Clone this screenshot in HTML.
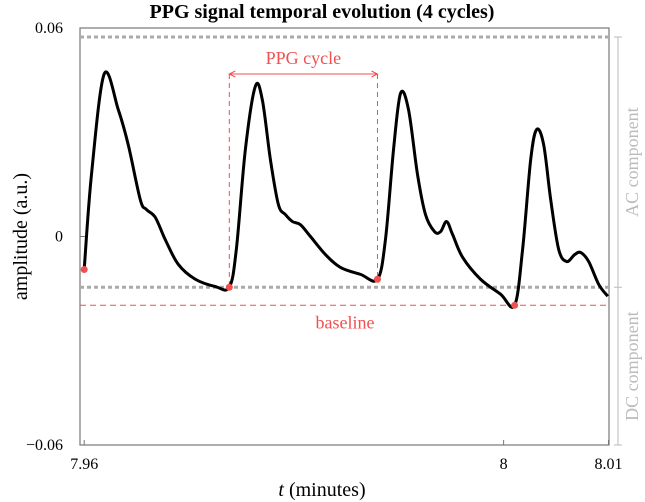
<!DOCTYPE html>
<html><head><meta charset="utf-8"><style>
body{margin:0;background:#fff}
svg{display:block;font-family:"Liberation Serif",serif}
</style></head><body>
<svg id="c" width="645" height="502">
<text x="322" y="18" text-anchor="middle" font-size="20" font-weight="bold">PPG signal temporal evolution (4 cycles)</text>
<g id="axes"></g>
<g id="marks"></g>
</svg>
<script>
const times=[7.96,7.9607,7.96191,7.96325,7.9642,7.96535,7.96592,7.96678,7.96773,7.96897,7.9706,7.97251,7.97384,7.97451,7.97537,7.97632,7.97699,7.97776,7.97852,7.97919,7.97986,7.98062,7.98158,7.98301,7.98444,7.98635,7.98797,7.98873,7.9895,7.99017,7.99093,7.99179,7.99255,7.99341,7.99399,7.99456,7.99513,7.99609,7.9978,7.99971,8.00105,8.00181,8.00258,8.00315,8.00382,8.00449,8.00525,8.00601,8.00678,8.00735,8.00811,8.00907,8.00993];
const amps=[-0.0095,0.018,0.0468,0.0365,0.0264,0.0106,0.0078,0.0055,-0.0009,-0.008,-0.0123,-0.0144,-0.0146,-0.0037,0.025,0.0432,0.0393,0.0221,0.0092,0.0063,0.0043,0.0034,0,-0.0052,-0.0089,-0.0109,-0.0123,-0.0009,0.025,0.0412,0.0365,0.0178,0.0063,0.0014,0.0014,0.0043,0.0006,-0.006,-0.0123,-0.0166,-0.0198,-0.0037,0.0221,0.0308,0.0264,0.0106,-0.0037,-0.0072,-0.0052,-0.0046,-0.0072,-0.0138,-0.0172];
const footTimes=[7.96,7.97384,7.98797,8.00105];
const footAmps=[-0.0095,-0.0146,-0.0123,-0.0198];
const xTicks=[7.96,8,8.01];
const yTicks=[-0.06,0,0.06];
const acLevel=0.0574, dcLevel=-0.0146, baseLevel=-0.0198;
const xMin=7.9596,xMax=8.01005,yMin=-0.06,yMax=0.06;
const L=80,R=609,T=28,B=445;
const X=t=>L+(t-xMin)/(xMax-xMin)*(R-L);
const Y=v=>B-(v-yMin)/(yMax-yMin)*(B-T);
const NS="http://www.w3.org/2000/svg";
function mk(tag,attrs,parent,txt){const e=document.createElementNS(NS,tag);for(const k in attrs)e.setAttribute(k,attrs[k]);if(txt!==undefined)e.textContent=txt;parent.appendChild(e);return e;}
const ax=document.getElementById('axes'),mg=document.getElementById('marks');
let e=mk('rect',{x:L,y:T,width:R-L,height:B-T,fill:'none',stroke:'#777','stroke-width':1.2},ax);


xTicks.forEach(t=>{mk('line',{x1:X(t),x2:X(t),y1:B,y2:B-5,stroke:'#777'},ax);
 e=mk('text',{x:X(t),y:B+24,'text-anchor':'middle','font-size':16},ax,String(t));
 
 });
yTicks.forEach(v=>{mk('line',{x1:L,x2:L+5,y1:Y(v),y2:Y(v),stroke:'#777'},ax);
 e=mk('text',{x:L-17,y:Y(v)+5,'text-anchor':'end','font-size':16},ax,v<0?'\u2212'+Math.abs(v):String(v));
 
 });
e=mk('text',{x:322,y:496,'text-anchor':'middle','font-size':20},ax);
e.innerHTML='<tspan font-style="italic">t</tspan> (minutes)';


e=mk('text',{x:0,y:0,'text-anchor':'middle','font-size':20,transform:`translate(27,${Y(0)}) rotate(-90)`},ax,'amplitude (a.u.)');


[[acLevel,'ac-level-line'],[dcLevel,'dc-level-line']].forEach(([v,n])=>{e=mk('line',{x1:L,x2:R,y1:Y(v),y2:Y(v),stroke:'#aaa','stroke-width':3,'stroke-dasharray':'4 3'},mg);
 
 });
e=mk('line',{x1:L,x2:R,y1:Y(baseLevel),y2:Y(baseLevel),stroke:'#f05050','stroke-width':1,'stroke-dasharray':'6 4'},mg);


e=mk('text',{x:345,y:Y(baseLevel)+23,'text-anchor':'middle','font-size':18,fill:'#f05050'},mg,'baseline');


const c1=X(footTimes[1]),c2=X(footTimes[2]),ay=74;
[c1,c2].forEach((cx,i)=>{e=mk('line',{x1:cx,x2:cx,y1:ay,y2:Y(footAmps[i+1]),stroke:'#f05050','stroke-dasharray':'5 4'},mg);
 
 });
e=mk('path',{d:`M${c1},${ay}H${c2}M${c1+6},${ay-3}L${c1},${ay}L${c1+6},${ay+3}M${c2-6},${ay-3}L${c2},${ay}L${c2-6},${ay+3}`,stroke:'#f05050',fill:'none'},mg);


e=mk('text',{x:(c1+c2)/2,y:64,'text-anchor':'middle','font-size':18,fill:'#f05050'},mg,'PPG cycle');


const pts=times.map((t,i)=>[X(t),Y(amps[i])]);
let d=`M${pts[0][0]},${pts[0][1]}`;
for(let i=0;i<pts.length-1;i++){const p0=pts[Math.max(i-1,0)],p1=pts[i],p2=pts[i+1],p3=pts[Math.min(i+2,pts.length-1)];
 d+=`C${p1[0]+(p2[0]-p0[0])/6},${p1[1]+(p2[1]-p0[1])/6} ${p2[0]-(p3[0]-p1[0])/6},${p2[1]-(p3[1]-p1[1])/6} ${p2[0]},${p2[1]}`;}
e=mk('path',{d:d,fill:'none',stroke:'#000','stroke-width':3,'stroke-linejoin':'round'},mg);


footTimes.forEach((t,i)=>{e=mk('circle',{cx:X(t),cy:Y(footAmps[i]),r:3.5,fill:'#f05050'},mg);
 
 });
const bx=618,ya=Y(acLevel),yd=Y(dcLevel);
e=mk('path',{d:`M${bx},${ya}V${B}M${bx-4},${ya}H${bx+4}M${bx-4},${yd}H${bx+4}M${bx-4},${B}H${bx+4}`,stroke:'#bbb',fill:'none'},mg);


e=mk('text',{'text-anchor':'middle','font-size':18,fill:'#bbb',transform:`translate(638,${(ya+yd)/2}) rotate(-90)`},mg,'AC component');


e=mk('text',{'text-anchor':'middle','font-size':18,fill:'#bbb',transform:`translate(638,${(yd+B)/2}) rotate(-90)`},mg,'DC component');


</script>
</body></html>
